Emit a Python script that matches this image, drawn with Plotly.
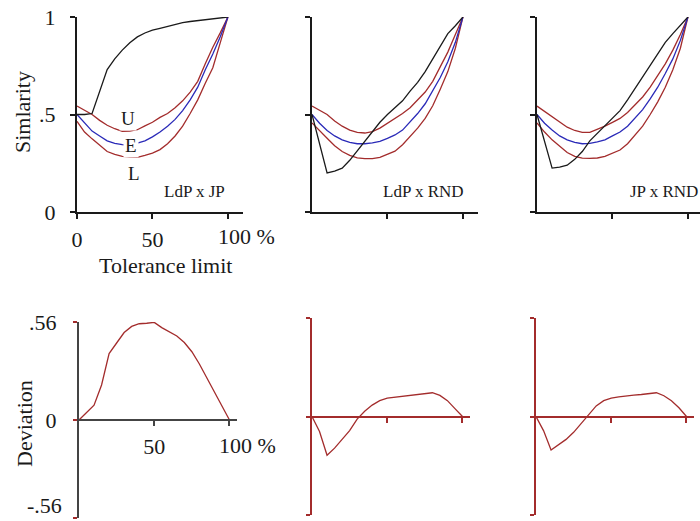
import plotly.graph_objects as go

W, H = 700, 521

tol = [0, 5, 10, 15, 20, 25, 30, 35, 40, 45, 50, 55, 60, 65, 70, 75, 80, 85, 90, 95, 100]

# Panel 1: LdP x JP
ldp_jp_obs = [0.5, 0.5, 0.505, 0.62, 0.73, 0.785, 0.83, 0.868, 0.898, 0.918, 0.933, 0.942, 0.952, 0.963, 0.971, 0.977, 0.982, 0.986, 0.99, 0.995, 1.0]
ldp_jp_U = [0.543, 0.52, 0.5, 0.47, 0.445, 0.427, 0.414, 0.415, 0.422, 0.442, 0.46, 0.485, 0.505, 0.535, 0.57, 0.615, 0.67, 0.76, 0.845, 0.92, 1.0]
ldp_jp_E = [0.5, 0.455, 0.415, 0.39, 0.365, 0.352, 0.345, 0.342, 0.352, 0.365, 0.385, 0.41, 0.44, 0.475, 0.52, 0.575, 0.64, 0.73, 0.81, 0.9, 1.0]
ldp_jp_L = [0.465, 0.41, 0.375, 0.34, 0.31, 0.295, 0.285, 0.282, 0.28, 0.29, 0.302, 0.32, 0.35, 0.39, 0.44, 0.505, 0.575, 0.66, 0.74, 0.87, 1.0]

# Panel 2: LdP x RND
ldp_rnd_obs = [0.5, 0.35, 0.2, 0.21, 0.225, 0.265, 0.315, 0.365, 0.415, 0.46, 0.5, 0.535, 0.57, 0.62, 0.665, 0.72, 0.785, 0.85, 0.915, 0.955, 1.0]
ldp_rnd_U = [0.543, 0.52, 0.5, 0.467, 0.44, 0.42, 0.408, 0.405, 0.412, 0.43, 0.455, 0.48, 0.505, 0.535, 0.575, 0.615, 0.67, 0.745, 0.82, 0.91, 1.0]
ldp_rnd_E = [0.5, 0.455, 0.418, 0.39, 0.37, 0.357, 0.35, 0.35, 0.355, 0.362, 0.378, 0.395, 0.42, 0.46, 0.505, 0.555, 0.62, 0.69, 0.77, 0.87, 1.0]
ldp_rnd_L = [0.457, 0.415, 0.378, 0.34, 0.31, 0.29, 0.278, 0.274, 0.274, 0.28, 0.295, 0.312, 0.345, 0.385, 0.43, 0.48, 0.545, 0.63, 0.72, 0.84, 1.0]

# Panel 3: JP x RND
jp_rnd_obs = [0.5, 0.36, 0.225, 0.23, 0.24, 0.27, 0.31, 0.365, 0.405, 0.445, 0.48, 0.52, 0.575, 0.635, 0.69, 0.75, 0.815, 0.87, 0.915, 0.955, 1.0]
jp_rnd_U = [0.543, 0.515, 0.49, 0.46, 0.435, 0.418, 0.408, 0.408, 0.422, 0.44, 0.46, 0.48, 0.51, 0.55, 0.59, 0.64, 0.7, 0.76, 0.83, 0.91, 1.0]
jp_rnd_E = [0.5, 0.455, 0.42, 0.39, 0.37, 0.357, 0.35, 0.352, 0.36, 0.37, 0.39, 0.41, 0.44, 0.48, 0.525, 0.58, 0.64, 0.71, 0.785, 0.88, 1.0]
jp_rnd_L = [0.457, 0.41, 0.37, 0.335, 0.305, 0.285, 0.276, 0.275, 0.277, 0.285, 0.302, 0.318, 0.35, 0.395, 0.44, 0.5, 0.565, 0.64, 0.73, 0.84, 1.0]

# Deviations
dev_ldp_jp = [0, 0.04, 0.085, 0.2, 0.38, 0.44, 0.5, 0.535, 0.55, 0.553, 0.558, 0.528, 0.505, 0.48, 0.443, 0.39, 0.32, 0.24, 0.16, 0.08, 0]
dev_ldp_rnd = [0, -0.085, -0.22, -0.18, -0.13, -0.08, -0.015, 0.03, 0.065, 0.09, 0.105, 0.11, 0.115, 0.12, 0.125, 0.126, 0.135, 0.12, 0.09, 0.045, 0]
dev_jp_rnd = [0, -0.08, -0.19, -0.16, -0.13, -0.09, -0.04, 0.015, 0.06, 0.09, 0.105, 0.112, 0.118, 0.122, 0.125, 0.128, 0.135, 0.118, 0.09, 0.05, 0]

panel_names = ["LdP x JP", "LdP x RND", "JP x RND"]

RED = "#a32c2c"
BLUE = "#2a2ab8"
BLACK = "#1a1a1a"
SERIF = "Liberation Serif"
FS = 22

def fx(px):
    return px / W

def fy(py):
    return (H - py) / H

fig = go.Figure()

top_sets = [
    (ldp_jp_obs, ldp_jp_U, ldp_jp_E, ldp_jp_L),
    (ldp_rnd_obs, ldp_rnd_U, ldp_rnd_E, ldp_rnd_L),
    (jp_rnd_obs, jp_rnd_U, jp_rnd_E, jp_rnd_L),
]
devs = [dev_ldp_jp, dev_ldp_rnd, dev_jp_rnd]

# pixel geometry of panels
top_x = [(77, 243, 110), (312, 478, 110), (537, 700, 108)]
bot_x = [(79, 237, 105), (312, 470, 105), (536, 694, 105)]
top_y = (17, 212)
bot_y = [(322, 518, 420), (318, 515, 416.5), (318, 515, 416.5)]

layout = dict(width=W, height=H, margin=dict(l=0, r=0, t=0, b=0, pad=0, autoexpand=False),
              template="none",
              paper_bgcolor="white", plot_bgcolor="white", showlegend=False)

for i in range(3):
    n_top = 2 * i + 1
    n_bot = 2 * i + 2
    xt = "x" if n_top == 1 else f"x{n_top}"
    yt = "y" if n_top == 1 else f"y{n_top}"
    xb = f"x{n_bot}"
    yb = f"y{n_bot}"
    obs, U, E, L = top_sets[i]
    fig.add_trace(go.Scatter(x=tol, y=U, mode="lines", line=dict(color=RED, width=1.3), xaxis=xt, yaxis=yt))
    fig.add_trace(go.Scatter(x=tol, y=L, mode="lines", line=dict(color=RED, width=1.3), xaxis=xt, yaxis=yt))
    fig.add_trace(go.Scatter(x=tol, y=E, mode="lines", line=dict(color=BLUE, width=1.3), xaxis=xt, yaxis=yt))
    fig.add_trace(go.Scatter(x=tol, y=obs, mode="lines", line=dict(color=BLACK, width=1.3), xaxis=xt, yaxis=yt))
    fig.add_trace(go.Scatter(x=tol, y=devs[i], mode="lines", line=dict(color=RED, width=1.3), xaxis=xb, yaxis=yb))

    x0, x1, xr = top_x[i]
    first = (i == 0)
    kx = "xaxis" if n_top == 1 else f"xaxis{n_top}"
    ky = "yaxis" if n_top == 1 else f"yaxis{n_top}"
    layout[kx] = dict(domain=[fx(x0), fx(x1)], range=[0, xr], anchor=yt, automargin=False,
                      showline=True, linecolor=BLACK, linewidth=2,
                      ticks="outside", ticklen=5, tickwidth=1.5, tickcolor=BLACK,
                      tickvals=[50, 100] if not first else [0, 50, 100],
                      ticktext=["", ""] if not first else ["0", "50", ""],
                      showticklabels=first, ticklabelstandoff=2, ticklabeloverflow="allow",
                      tickfont=dict(family=SERIF, size=FS, color=BLACK),
                      showgrid=False, zeroline=False, fixedrange=True)
    layout[ky] = dict(domain=[fy(top_y[1]), fy(top_y[0])], range=[0, 1], anchor=xt, automargin=False,
                      showline=True, linecolor=BLACK, linewidth=2,
                      ticks="outside", ticklen=5, tickwidth=1.5, tickcolor=BLACK,
                      tickvals=[0, 0.5, 1], ticktext=["0", ".5", "1"],
                      showticklabels=first, ticklabelstandoff=10, ticklabeloverflow="allow",
                      tickfont=dict(family=SERIF, size=FS, color=BLACK),
                      showgrid=False, zeroline=False, fixedrange=True)

    bx0, bx1, bxr = bot_x[i]
    by_top, by_bot, by_zero = bot_y[i]
    axcol = "#444444" if first else RED
    layout[f"xaxis{n_bot}"] = dict(domain=[fx(bx0), fx(bx1)], range=[0, bxr], anchor="free",
                                   position=fy(by_zero), automargin=False,
                                   showline=True, linecolor=axcol, linewidth=2,
                                   ticks="outside", ticklen=5, tickwidth=1.5, tickcolor=axcol,
                                   tickvals=[50, 100], ticktext=["50", ""],
                                   showticklabels=first, ticklabelstandoff=2, ticklabeloverflow="allow",
                                   tickfont=dict(family=SERIF, size=FS, color=BLACK),
                                   showgrid=False, zeroline=False, fixedrange=True)
    layout[f"yaxis{n_bot}"] = dict(domain=[fy(by_bot), fy(by_top)], range=[-0.56, 0.56], anchor=xb,
                                   automargin=False,
                                   showline=True, linecolor=axcol, linewidth=2,
                                   ticks="outside", ticklen=4, tickwidth=1.5, tickcolor=RED,
                                   tickvals=[-0.56, 0, 0.56], ticktext=["", "0", ".56"],
                                   showticklabels=first, ticklabelstandoff=12, ticklabeloverflow="allow",
                                   tickfont=dict(family=SERIF, size=FS, color=BLACK),
                                   showgrid=False, zeroline=False, fixedrange=True)

fig.update_layout(**layout)

ann = []
# "100 %" labels
ann.append(dict(x=100, y=0, xref="x", yref="y", text="100 %", showarrow=False,
                xanchor="left", yanchor="top", xshift=-12, yshift=-10,
                font=dict(family=SERIF, size=FS, color=BLACK)))
ann.append(dict(x=100, y=0, xref="x2", yref="y2", text="100 %", showarrow=False,
                xanchor="left", yanchor="top", xshift=-12, yshift=-11,
                font=dict(family=SERIF, size=FS, color=BLACK)))
# bottom "-.56" label, lifted to stay inside the picture
ann.append(dict(x=0, y=-0.56, xref="x2", yref="y2", text="-.56", showarrow=False,
                xanchor="right", yanchor="bottom", xshift=-15, yshift=-2,
                font=dict(family=SERIF, size=FS, color=BLACK)))
# panel names
name_axes = [("x", "y", -1), ("x3", "y3", 3), ("x5", "y5", 12)]
for (xr_, yr_, sh), nm in zip(name_axes, panel_names):
    ann.append(dict(x=100, y=0.103, xref=xr_, yref=yr_, text=nm, showarrow=False,
                    xanchor="right", yanchor="middle", xshift=sh,
                    font=dict(family=SERIF, size=17, color=BLACK)))
# U/E/L labels
ann.append(dict(x=34, y=0.48, xref="x", yref="y", text="U", showarrow=False,
                xanchor="center", yanchor="middle",
                font=dict(family=SERIF, size=19, color=BLACK), bgcolor="white"))
ann.append(dict(x=35.5, y=0.34, xref="x", yref="y", text="E", showarrow=False,
                xanchor="center", yanchor="middle",
                font=dict(family=SERIF, size=19, color=BLACK), bgcolor="white"))
ann.append(dict(x=37.5, y=0.2, xref="x", yref="y", text="L", showarrow=False,
                xanchor="center", yanchor="middle",
                font=dict(family=SERIF, size=19, color=BLACK)))
# axis titles
ann.append(dict(x=fx(23), y=fy(112), xref="paper", yref="paper", text="Simlarity", textangle=-90,
                xanchor="center", yanchor="middle",
                showarrow=False, font=dict(family=SERIF, size=FS, color=BLACK)))
ann.append(dict(x=fx(165), y=fy(265), xref="paper", yref="paper", text="Tolerance limit",
                xanchor="center", yanchor="middle",
                showarrow=False, font=dict(family=SERIF, size=FS, color=BLACK)))
ann.append(dict(x=fx(25), y=fy(424), xref="paper", yref="paper", text="Deviation", textangle=-90,
                xanchor="center", yanchor="middle",
                showarrow=False, font=dict(family=SERIF, size=FS, color=BLACK)))
fig.update_layout(annotations=ann)

fig.write_html("out.html")
